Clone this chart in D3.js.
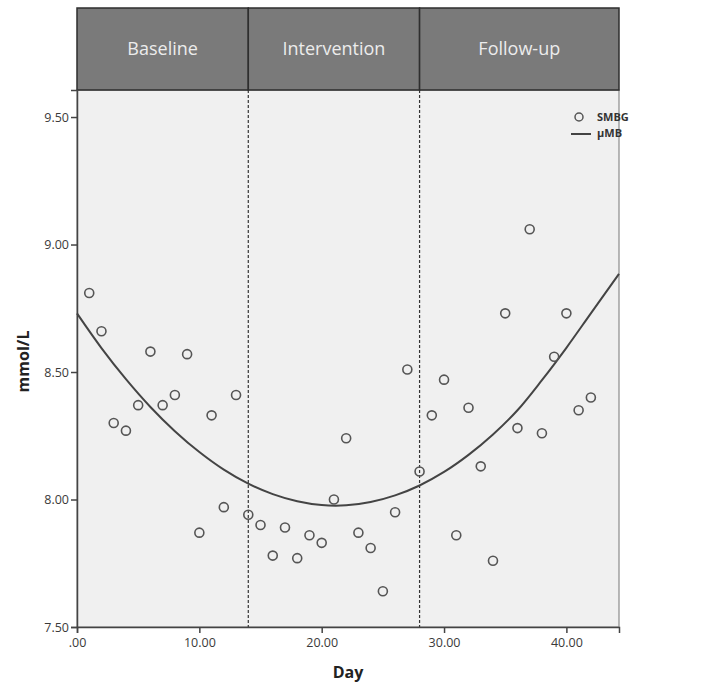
<!DOCTYPE html>
<html>
<head>
<meta charset="utf-8">
<script src="https://cdn.jsdelivr.net/npm/d3@7/dist/d3.min.js"></script>
<style>
  html, body { margin: 0; padding: 0; background: #ffffff; }
  svg { display: block; font-family: "Open Sans", "Noto Sans", sans-serif; }
</style>
</head>
<body>
<svg id="chart" width="712" height="689"></svg>
<script>
// Daily self-monitored blood glucose (mmol/L), days 1..42
const days = d3.range(1, 43);
const smbg = [
  8.81, 8.66, 8.30, 8.27, 8.37, 8.58, 8.37, 8.41, 8.57, 7.87,
  8.33, 7.97, 8.41, 7.94, 7.90, 7.78, 7.89, 7.77, 7.86, 7.83,
  8.00, 8.24, 7.87, 7.81, 7.64, 7.95, 8.51, 8.11, 8.33, 8.47,
  7.86, 8.36, 8.13, 7.76, 8.73, 8.28, 9.06, 8.26, 8.56, 8.73,
  8.35, 8.40
];

// Fitted trend (μMB) sampled along the day axis
const trendDays = [0, 2, 4, 6, 8, 10, 12, 14, 16, 18, 20, 22, 24, 26, 28, 30, 32, 34, 36, 38, 40, 42, 44.3];
const trendValues = [8.730, 8.594, 8.472, 8.363, 8.268, 8.186, 8.117, 8.062, 8.021, 7.993, 7.978, 7.977, 7.990, 8.016, 8.055, 8.108, 8.175, 8.255, 8.350, 8.468, 8.595, 8.730, 8.885];

// Study phases
const phases = ["Baseline", "Intervention", "Follow-up"];
const phaseBounds = [0, 14, 28, 44.3];

const xTicks = [0, 10, 20, 30, 40];
const xTickLabels = [".00", "10.00", "20.00", "30.00", "40.00"];
const yTicks = [7.5, 8.0, 8.5, 9.0, 9.5];
const yTickLabels = ["7.50", "8.00", "8.50", "9.00", "9.50"];

const legendLabels = ["SMBG", "μMB"];

const svg = d3.select("#chart");

const plotLeft = 77, plotRight = 619, plotTop = 90, plotBottom = 627, headerTop = 8;

const x = d3.scaleLinear().domain([0, 44.3]).range([plotLeft, plotRight]);
const y = d3.scaleLinear().domain([7.5, 9.606]).range([plotBottom, plotTop]);

// Plot panel
svg.append("rect")
  .attr("x", plotLeft).attr("y", plotTop)
  .attr("width", plotRight - plotLeft).attr("height", plotBottom - plotTop)
  .attr("fill", "#f0f0f0")
  .attr("stroke", "#8a8a8a").attr("stroke-width", 1.2);

// Phase header strip
const header = svg.append("g");
phases.forEach((p, i) => {
  const x0 = x(phaseBounds[i]), x1 = x(phaseBounds[i + 1]);
  header.append("rect")
    .attr("x", x0).attr("y", headerTop)
    .attr("width", x1 - x0).attr("height", plotTop - headerTop)
    .attr("fill", "#7a7a7a")
    .attr("stroke", "#2e2e2e").attr("stroke-width", 1.5);
  header.append("text")
    .attr("x", (x0 + x1) / 2).attr("y", (headerTop + plotTop) / 2 + 6)
    .attr("text-anchor", "middle")
    .attr("font-size", 18)
    .attr("fill", "#ececec")
    .text(p);
});

// Phase boundaries
svg.selectAll("line.phase")
  .data(phaseBounds.slice(1, 3))
  .join("line")
  .attr("class", "phase")
  .attr("x1", d => x(d)).attr("x2", d => x(d))
  .attr("y1", plotTop).attr("y2", plotBottom)
  .attr("stroke", "#333")
  .attr("stroke-width", 1.2)
  .attr("stroke-dasharray", "3,2");

// Axes
const yAxis = d3.axisLeft(y)
  .tickValues(yTicks)
  .tickFormat((d, i) => yTickLabels[i])
  .tickSize(6)
  .tickPadding(2);
const gy = svg.append("g").attr("transform", `translate(${plotLeft},0)`).call(yAxis);

const xAxis = d3.axisBottom(x)
  .tickValues(xTicks)
  .tickFormat((d, i) => xTickLabels[i])
  .tickSize(6)
  .tickPadding(5);
const gx = svg.append("g").attr("transform", `translate(0,${plotBottom})`).call(xAxis);

[gx, gy].forEach(g => {
  g.select(".domain").attr("stroke", "#444").attr("stroke-width", 1.5);
  g.selectAll(".tick line").attr("stroke", "#444").attr("stroke-width", 1.5);
  g.selectAll(".tick text")
    .attr("font-size", 12.5)
    .attr("fill", "#3a3a3a")
    .attr("font-family", "\"Open Sans\", sans-serif");
});

// Axis titles
svg.append("text")
  .attr("x", (plotLeft + plotRight) / 2).attr("y", 678)
  .attr("text-anchor", "middle")
  .attr("font-size", 16).attr("font-weight", "bold")
  .attr("fill", "#222")
  .text("Day");

svg.append("text")
  .attr("transform", `translate(29,${(plotTop + plotBottom) / 2 + 3}) rotate(-90)`)
  .attr("text-anchor", "middle")
  .attr("font-size", 16).attr("font-weight", "bold")
  .attr("fill", "#222")
  .text("mmol/L");

// Trend curve
const line = d3.line()
  .x(d => x(d[0]))
  .y(d => y(d[1]))
  .curve(d3.curveCatmullRom);
svg.append("path")
  .datum(trendDays.map((d, i) => [d, trendValues[i]]))
  .attr("d", line)
  .attr("fill", "none")
  .attr("stroke", "#444")
  .attr("stroke-width", 2);

// SMBG observations
svg.selectAll("circle.obs")
  .data(days.map((d, i) => [d, smbg[i]]))
  .join("circle")
  .attr("class", "obs")
  .attr("cx", d => x(d[0]))
  .attr("cy", d => y(d[1]))
  .attr("r", 4.5)
  .attr("fill", "none")
  .attr("stroke", "#555")
  .attr("stroke-width", 1.6);

// Legend
const lg = svg.append("g");
lg.append("circle")
  .attr("cx", 579).attr("cy", 117).attr("r", 4)
  .attr("fill", "none").attr("stroke", "#555").attr("stroke-width", 1.5);
lg.append("line")
  .attr("x1", 571).attr("x2", 591).attr("y1", 134).attr("y2", 134)
  .attr("stroke", "#444").attr("stroke-width", 2);
legendLabels.forEach((t, i) => {
  lg.append("text")
    .attr("x", 597).attr("y", 121 + i * 16)
    .attr("font-size", 11).attr("font-weight", "bold")
    .attr("fill", "#333")
    .text(t);
});
</script>
</body>
</html>
